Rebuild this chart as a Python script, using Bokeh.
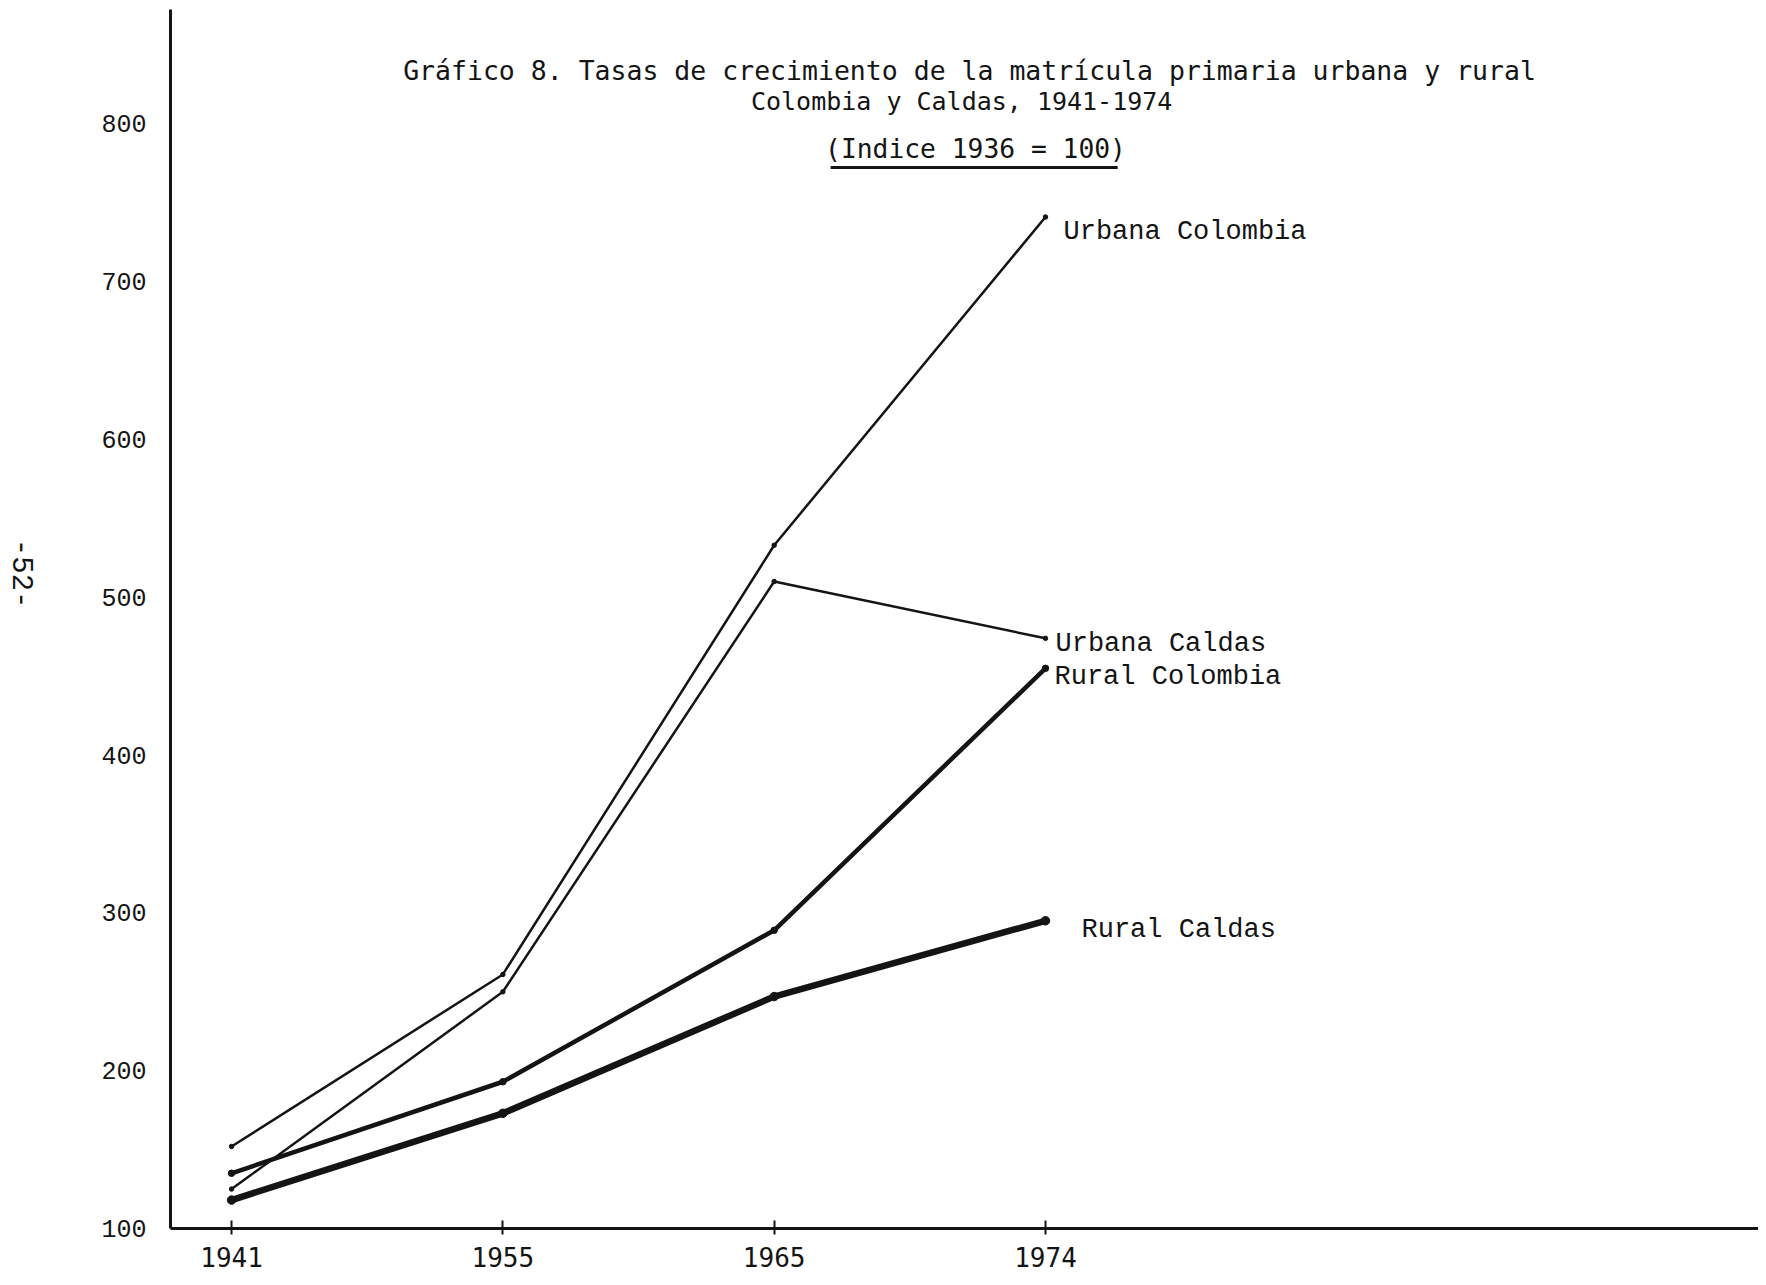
import math
from bokeh.plotting import figure
from bokeh.layouts import row
from bokeh.models import Range1d, FixedTicker, Label
from bokeh.core.properties import value
from bokeh.embed import file_html
from bokeh.resources import INLINE

# ---- data ----
years = ["1941", "1955", "1965", "1974"]
urbana_colombia = [152, 261, 533, 741]
urbana_caldas = [125, 250, 510, 474]
rural_colombia = [135, 193, 289, 455]
rural_caldas = [118, 173, 247, 295]
y_ticks = [100, 200, 300, 400, 500, 600, 700, 800]

title_lines = [
    "Gráfico 8. Tasas de crecimiento de la matrícula primaria urbana y rural",
    "Colombia y Caldas, 1941-1974",
    "(Indice 1936 = 100)",
]
page_number = "-52-"

INK = "#141414"
TITLE_FONT = "DejaVu Sans Mono"
TYPE_FONT = "Liberation Mono"

idx = list(range(len(years)))

# ---- narrow strip on the left with the page number ----
pg = figure(
    width=40, height=1277, output_backend="svg", toolbar_location=None,
    x_range=Range1d(0, 40), y_range=Range1d(0, 1277),
    x_axis_type=None, y_axis_type=None,
    min_border_left=0, min_border_right=0, min_border_top=0, min_border_bottom=0,
    background_fill_color="white", border_fill_color="white",
)
pg.outline_line_color = None
pg.grid.visible = False
pg.text(x=[22], y=[686], text=[page_number], angle=-math.pi / 2,
        text_font=value(TYPE_FONT), text_font_size="29px", text_color=INK,
        text_align="center", text_baseline="middle")

# ---- main chart ----
p = figure(
    width=1718, height=1277,
    output_backend="svg", toolbar_location=None,
    x_range=Range1d(-0.225, 5.628), y_range=Range1d(100, 872.5),
    min_border_left=130, min_border_right=0, min_border_top=9, min_border_bottom=49,
    background_fill_color="white", border_fill_color="white",
)
p.outline_line_color = None
p.grid.visible = False

# x axis
p.xaxis.ticker = FixedTicker(ticks=idx)
p.xaxis.major_label_overrides = {i: y for i, y in zip(idx, years)}
p.xaxis.axis_line_width = 3
p.xaxis.axis_line_color = INK
p.xaxis.major_tick_in = 8
p.xaxis.major_tick_out = 6
p.xaxis.major_tick_line_width = 2
p.xaxis.major_tick_line_color = INK
p.xaxis.minor_tick_line_color = None
p.xaxis.major_label_standoff = 12
p.xaxis.major_label_text_font = TITLE_FONT
p.xaxis.major_label_text_font_size = "26px"
p.xaxis.major_label_text_color = INK

# y axis
p.yaxis.ticker = FixedTicker(ticks=y_ticks)
p.yaxis.axis_line_width = 3
p.yaxis.axis_line_color = INK
p.yaxis.major_tick_line_color = None
p.yaxis.minor_tick_line_color = None
p.yaxis.major_label_standoff = 18
p.yaxis.major_label_text_font = TYPE_FONT
p.yaxis.major_label_text_font_size = "25px"
p.yaxis.major_label_text_color = INK

# series
series = [
    ("Urbana Colombia", urbana_colombia, 2.5, 18, -15),
    ("Urbana Caldas", urbana_caldas, 2.5, 10, -6),
    ("Rural Colombia", rural_colombia, 4.5, 9, -9),
    ("Rural Caldas", rural_caldas, 6.5, 36, -9),
]
for name, vals, lw, xo, yo in series:
    p.line(idx, vals, line_width=lw, line_color=INK, line_join="round", line_cap="round")
    p.scatter(idx, vals, size=lw + 2, color=INK)
    p.add_layout(Label(x=idx[-1], y=vals[-1], x_offset=xo, y_offset=yo, text=name,
                       text_font=TYPE_FONT, text_font_size="27px", text_color=INK,
                       text_align="left", text_baseline="middle"))

# title block
title_pos = [(2.72, 833.8), (2.691, 814.2), (2.742, 783.8)]
title_sizes = ["26.5px", "25px", "26.3px"]
for t, (tx, ty), fs in zip(title_lines, title_pos, title_sizes):
    p.add_layout(Label(x=tx, y=ty, text=t, text_font=TITLE_FONT, text_font_size=fs,
                       text_color=INK, text_align="center", text_baseline="middle"))
p.segment(x0=[2.208], y0=[772.4], x1=[3.266], y1=[772.4], line_width=3, line_color=INK)

layout = row(pg, p, spacing=0)
open("out.html", "w").write(file_html(layout, INLINE))
